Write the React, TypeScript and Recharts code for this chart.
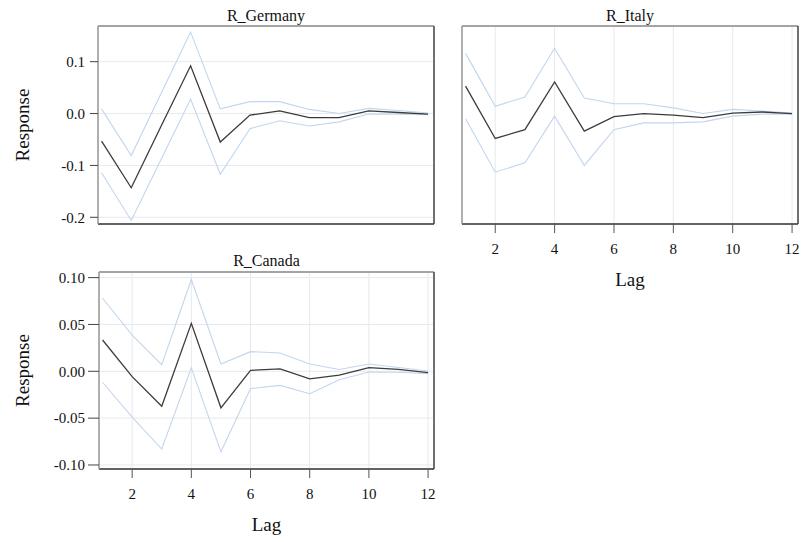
import React from 'react';
import { LineChart, Line, XAxis, YAxis, CartesianGrid } from 'recharts';

// Impulse responses by lag, with lower/upper confidence bounds
const lags = [1, 2, 3, 4, 5, 6, 7, 8, 9, 10, 11, 12];

const germanyResponse = [-0.053, -0.143, -0.025, 0.092, -0.055, -0.003, 0.005, -0.008, -0.008, 0.005, 0.002, -0.001];
const germanyLower = [-0.114, -0.206, -0.089, 0.028, -0.117, -0.029, -0.014, -0.024, -0.016, -0.001, -0.001, -0.002];
const germanyUpper = [0.009, -0.081, 0.038, 0.157, 0.009, 0.023, 0.023, 0.008, 0.0, 0.01, 0.006, 0.001];

const italyResponse = [0.053, -0.048, -0.031, 0.061, -0.034, -0.006, 0.0, -0.003, -0.008, 0.001, 0.003, 0.0];
const italyLower = [-0.01, -0.113, -0.095, -0.005, -0.1, -0.031, -0.018, -0.018, -0.016, -0.005, -0.001, -0.001];
const italyUpper = [0.116, 0.014, 0.032, 0.126, 0.03, 0.019, 0.019, 0.011, 0.0, 0.008, 0.005, 0.001];

const canadaResponse = [0.0334, -0.0057, -0.0373, 0.0512, -0.039, 0.001, 0.0025, -0.008, -0.004, 0.004, 0.002, -0.0014];
const canadaLower = [-0.0117, -0.049, -0.083, 0.0036, -0.086, -0.0185, -0.015, -0.024, -0.009, -0.0007, -0.001, -0.0025];
const canadaUpper = [0.078, 0.0387, 0.0071, 0.098, 0.0078, 0.021, 0.0195, 0.0078, 0.002, 0.0078, 0.004, 0.0003];

const lagTicks = [2, 4, 6, 8, 10, 12];
const topRowTicks = [-0.2, -0.1, 0.0, 0.1];
const canadaTicks = [-0.1, -0.05, 0.0, 0.05, 0.1];

const lagDomain: [number, number] = [0.88, 12.2];
const topRowDomain: [number, number] = [-0.2129, 0.1688];
const canadaDomain: [number, number] = [-0.1043, 0.106];

const buildRows = (resp: number[], lower: number[], upper: number[]) =>
  lags.map((lag, i) => ({ lag, resp: resp[i], lower: lower[i], upper: upper[i] }));

const FONT = "'Liberation Serif', 'DejaVu Serif', serif";
const TEXT = '#111';
const GRID = '#e6e9ef';
const BAND = '#c2d6ee';
const RESP = '#3c3c3c';

type PanelProps = {
  title: string;
  rows: { lag: number; resp: number; lower: number; upper: number }[];
  left: number;
  top: number;
  width: number;
  height: number;
  margin: { top: number; right: number; bottom: number; left: number };
  yTicks: number[];
  yDomain: [number, number];
  yDigits: number;
  yWidth: number;
  yTickSize: number;
  yTickMargin: number;
  showYLabels: boolean;
  xHeight: number;
  showXLabels: boolean;
  titleOffset: number;
};

// Serif tick labels for the lag axis
function LagTick(props: any) {
  const { x, y, payload } = props;
  return (
    <text x={x} y={y} dy="0.71em" textAnchor="middle" fill={TEXT} style={{ fontFamily: FONT, fontSize: 15 }}>
      {payload.value}
    </text>
  );
}

// Serif tick labels for the response axis
function makeResponseTick(digits: number) {
  return function ResponseTick(props: any) {
    const { x, y, payload } = props;
    return (
      <text x={x} y={y} dy="0.35em" textAnchor="end" fill={TEXT} style={{ fontFamily: FONT, fontSize: 15 }}>
        {Number(payload.value).toFixed(digits)}
      </text>
    );
  };
}

function Panel(p: PanelProps) {
  const ResponseTick = makeResponseTick(p.yDigits);
  return (
    <div style={{ position: 'absolute', left: p.left, top: p.top }}>
      <LineChart width={p.width} height={p.height} data={p.rows} margin={p.margin}>
        <CartesianGrid stroke={GRID} strokeWidth={1} />
        <XAxis
          dataKey="lag"
          type="number"
          domain={lagDomain}
          allowDataOverflow
          ticks={lagTicks}
          height={p.xHeight}
          axisLine={{ stroke: '#333', strokeWidth: 1.5 }}
          tickLine={p.showXLabels ? { stroke: '#555' } : false}
          tickSize={9}
          tickMargin={10}
          tick={p.showXLabels ? <LagTick /> : false}
          label={
            p.showXLabels
              ? { value: 'Lag', position: 'insideBottom', offset: 0, fontSize: 19, fill: TEXT, fontFamily: FONT }
              : undefined
          }
        />
        <XAxis
          xAxisId="top"
          orientation="top"
          type="number"
          domain={lagDomain}
          allowDataOverflow
          height={1}
          tick={false}
          tickLine={false}
          axisLine={{ stroke: '#8a8a8a', strokeWidth: 1.5 }}
          label={{ value: p.title, position: 'top', offset: p.titleOffset, fontSize: 16, fill: TEXT, fontFamily: FONT }}
        />
        <YAxis
          type="number"
          domain={p.yDomain}
          allowDataOverflow
          ticks={p.yTicks}
          width={p.yWidth}
          axisLine={{ stroke: '#999', strokeWidth: 1.5 }}
          tickLine={p.showYLabels ? { stroke: '#444' } : false}
          tickSize={p.yTickSize}
          tickMargin={p.yTickMargin}
          tick={p.showYLabels ? <ResponseTick /> : false}
          label={
            p.showYLabels
              ? {
                  value: 'Response',
                  angle: -90,
                  position: 'insideLeft',
                  offset: 0,
                  fontSize: 19,
                  fill: TEXT,
                  fontFamily: FONT,
                  style: { textAnchor: 'middle' },
                }
              : undefined
          }
        />
        <YAxis
          yAxisId="right"
          orientation="right"
          type="number"
          domain={p.yDomain}
          allowDataOverflow
          width={1}
          tick={false}
          tickLine={false}
          axisLine={{ stroke: '#444', strokeWidth: 1.5 }}
        />
        <Line dataKey="upper" stroke={BAND} strokeWidth={1.1} dot={false} isAnimationActive={false} />
        <Line dataKey="lower" stroke={BAND} strokeWidth={1.1} dot={false} isAnimationActive={false} />
        <Line dataKey="resp" stroke={RESP} strokeWidth={1.3} dot={false} isAnimationActive={false} />
      </LineChart>
    </div>
  );
}

export default function App() {
  return (
    <div
      style={{
        position: 'absolute',
        left: 0,
        top: 0,
        width: 812,
        height: 542,
        background: '#fff',
        fontFamily: FONT,
      }}
    >
      <Panel
        title="R_Germany"
        rows={buildRows(germanyResponse, germanyLower, germanyUpper)}
        left={0}
        top={0}
        width={450}
        height={245}
        margin={{ top: 25, right: 15, bottom: 20, left: 22 }}
        yTicks={topRowTicks}
        yDomain={topRowDomain}
        yDigits={1}
        yWidth={76}
        yTickSize={8}
        yTickMargin={5}
        showYLabels
        xHeight={1}
        showXLabels={false}
        titleOffset={4}
      />
      <Panel
        title="R_Italy"
        rows={buildRows(italyResponse, italyLower, italyUpper)}
        left={450}
        top={0}
        width={362}
        height={300}
        margin={{ top: 25, right: 13, bottom: 14, left: 0 }}
        yTicks={topRowTicks}
        yDomain={topRowDomain}
        yDigits={1}
        yWidth={12}
        yTickSize={0}
        yTickMargin={0}
        showYLabels={false}
        xHeight={62}
        showXLabels
        titleOffset={4}
      />
      <Panel
        title="R_Canada"
        rows={buildRows(canadaResponse, canadaLower, canadaUpper)}
        left={0}
        top={246}
        width={450}
        height={296}
        margin={{ top: 25, right: 15, bottom: 11, left: 22 }}
        yTicks={canadaTicks}
        yDomain={canadaDomain}
        yDigits={2}
        yWidth={77}
        yTickSize={11}
        yTickMargin={3}
        showYLabels
        xHeight={62}
        showXLabels
        titleOffset={5}
      />
    </div>
  );
}
